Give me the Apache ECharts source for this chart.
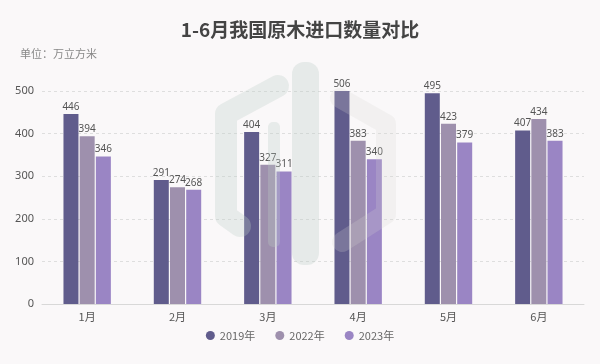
<!DOCTYPE html>
<html><head><meta charset="utf-8">
<script src="https://cdn.jsdelivr.net/npm/echarts@6/dist/echarts.min.js"></script>
<style>html,body{margin:0;padding:0;background:#faf8f9;}#c{width:600px;height:364px;}</style>
</head><body><div id="c"></div>
<script>
var categories = ['1月','2月','3月','4月','5月','6月'];
var seriesNames = ['2019年','2022年','2023年'];
var v2019 = [446, 291, 404, 506, 495, 407];
var v2022 = [394, 274, 327, 383, 423, 434];
var v2023 = [346, 268, 311, 340, 379, 383];
var colors = ['#605c8c', '#9e90ad', '#9a85c4'];

var chart = echarts.init(document.getElementById('c'));
function mk(name, data, color){
  return {
    name: name, type: 'bar', data: data, barWidth: 15, barGap: '8%',
    itemStyle: {color: color},
    label: {show: true, position: 'top', distance: 2, color: '#555', fontSize: 10, fontFamily: 'Noto Sans'},
    z: 2
  };
}
chart.setOption({
  backgroundColor: '#faf8f9',
  animation: false,
  color: colors,
  title: [{
    text: '1-6月我国原木进口数量对比', left: 'center', top: 15,
    textStyle: {fontSize: 19, fontWeight: 'bold', color: '#444', fontFamily: 'Noto Sans CJK SC'}
  },{
    text: '单位：万立方米', left: 15, top: 43,
    textStyle: {fontSize: 11, fontWeight: 'normal', color: '#888', fontFamily: 'Noto Sans CJK SC'}
  }],
  legend: {
    bottom: 18, left: 'center', icon: 'circle', itemWidth: 9, itemHeight: 9, itemGap: 20,
    textStyle: {color: '#666', fontSize: 11, fontFamily: 'Noto Sans CJK SC'},
    data: seriesNames
  },
  grid: {left: 42, right: 16, top: 91, bottom: 60},
  xAxis: {
    type: 'category', data: categories,
    axisLine: {lineStyle: {color: '#d8d8d8'}},
    axisTick: {alignWithLabel: true, length: 3, lineStyle: {color: '#d8d8d8'}},
    axisLabel: {color: '#555', fontSize: 11, margin: 7, fontFamily: 'Noto Sans CJK SC'}
  },
  yAxis: {
    type: 'value', min: 0, max: 500, interval: 100,
    axisLine: {show: false}, axisTick: {show: false},
    axisLabel: {color: '#555', fontSize: 11, margin: 8, fontFamily: 'Noto Sans'},
    splitLine: {lineStyle: {color: '#dedede', type: [3, 3]}}
  },
  series: [mk(seriesNames[0], v2019, colors[0]), mk(seriesNames[1], v2022, colors[1]), mk(seriesNames[2], v2023, colors[2])],
  graphic: [
    {type: 'polyline', z: 10, shape: {points: [[240, 226], [226, 216], [226, 114], [278, 86]]},
     style: {stroke: 'rgba(190,205,200,0.3)', fill: null, lineWidth: 22, lineJoin: 'round', lineCap: 'round'}},
    {type: 'rect', z: 10, shape: {x: 268, y: 122, width: 12, height: 125, r: 5},
     style: {fill: 'rgba(190,205,200,0.3)'}},
    {type: 'rect', z: 10, shape: {x: 292, y: 62, width: 27, height: 203, r: 12},
     style: {fill: 'rgba(190,205,200,0.32)'}},
    {type: 'polyline', z: 10, shape: {points: [[340, 98], [386, 124], [386, 214], [342, 242]]},
     style: {stroke: 'rgba(215,215,210,0.22)', fill: null, lineWidth: 20, lineJoin: 'round', lineCap: 'round'}}
  ]
});
</script></body></html>
